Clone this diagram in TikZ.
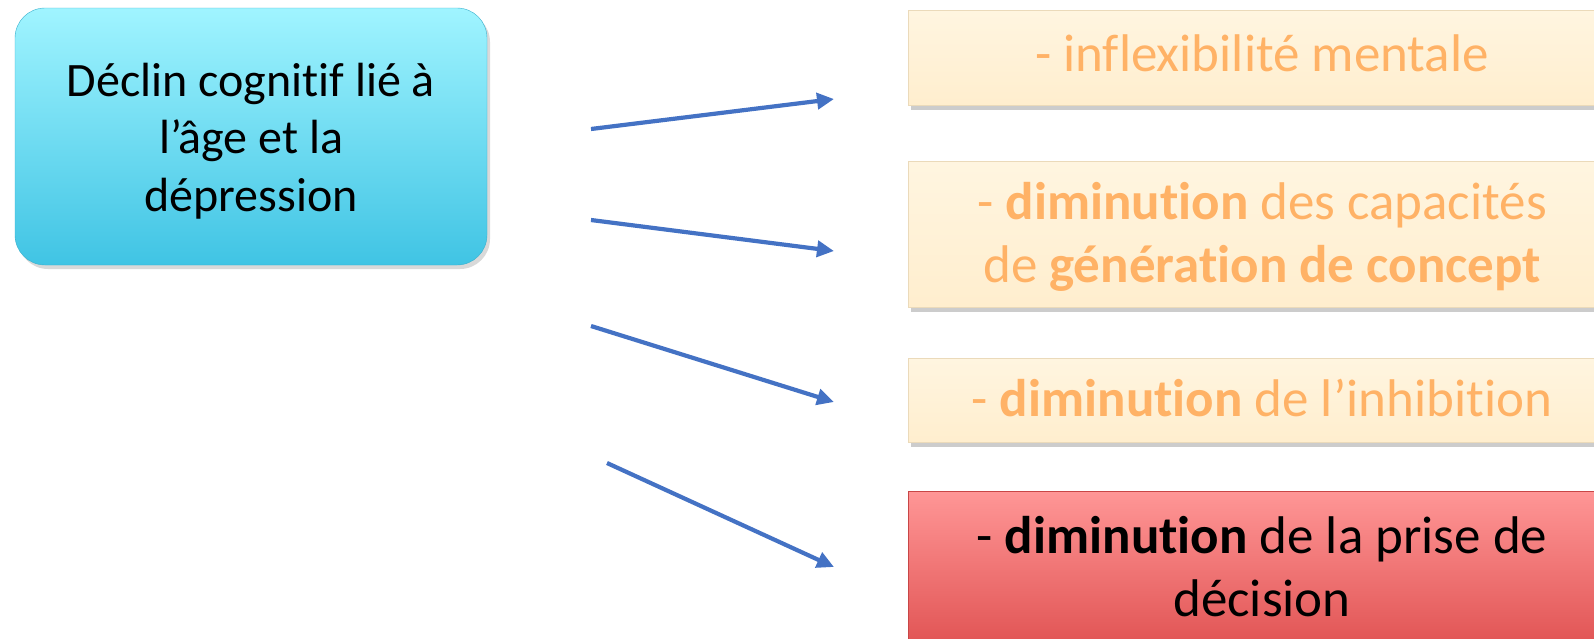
\documentclass[tikz,border=0pt]{standalone}
\usepackage{fontspec}
\setmainfont{Carlito}[Ligatures=NoCommon]
\usepackage{tikz}
\usetikzlibrary{arrows.meta,positioning,shadows}

\definecolor{cyantop}{RGB}{160,244,255}
\definecolor{cyanbot}{RGB}{64,196,228}
\definecolor{creamtop}{RGB}{255,245,224}
\definecolor{creambot}{RGB}{255,238,206}
\definecolor{creamedge}{RGB}{235,218,186}
\definecolor{redtop}{RGB}{255,150,150}
\definecolor{redbot}{RGB}{222,78,78}
\definecolor{orangetxt}{RGB}{255,178,102}
\definecolor{arrowblue}{RGB}{68,114,196}

\begin{document}
\begin{tikzpicture}[
    x=0.5pt, y=-0.5pt,
    cause/.style={rectangle, rounded corners=15pt, top color=cyantop, bottom color=cyanbot,
        draw=cyanbot!90!black, line width=0.2pt, minimum width=236pt, minimum height=128.5pt,
        drop shadow={opacity=0.3, shadow xshift=1.5pt, shadow yshift=-2pt},
        align=center, font=\fontsize{24}{28.75}\selectfont},
    effect/.style={rectangle, top color=creamtop, bottom color=creambot, draw=creamedge,
        line width=0.3pt, minimum width=354pt, anchor=west,
        drop shadow={opacity=0.4, shadow xshift=1.5pt, shadow yshift=-2.5pt}},
    effectred/.style={effect, top color=redtop, bottom color=redbot, draw=redbot!90!black},
    effecttxt/.style={anchor=base, align=center, text=orangetxt, inner sep=0pt,
        font=\fontsize{26.5}{31.5}\selectfont},
    link/.style={-{Triangle[length=8.5pt,width=8pt]}, line width=2.1pt, arrowblue}
]
    \clip (0,0) rectangle (1594,638);
    \useasboundingbox (0,0) rectangle (1594,638);

    % Cause
    \node[cause] (declin) at (251,136.5) {\rule{0pt}{21pt}D\'eclin cognitif li\'e \`a\\l’\^age et la\\d\'epression};

    % Effects
    \node[effect, minimum height=47.5pt] (inflex) at (908,57.5) {};
    \node[effect, minimum height=73pt] (concept) at (908,234) {};
    \node[effect, minimum height=42pt] (inhib) at (908,400) {};
    \node[effectred, minimum height=84.5pt] (decision) at (908,575.5) {};

    \node[effecttxt] (inflextxt) at (1262,71) {- inflexibilit\'e mentale};
    \node[effecttxt] (concepttxt) at (1262,282) {- \textbf{diminution} des capacit\'es\\de \textbf{g\'en\'eration de concept}};
    \node[effecttxt] (inhibtxt) at (1262,416) {- \textbf{diminution} de l’inhibition};
    \node[effecttxt, text=black] (decisiontxt) at (1262,616) {- \textbf{diminution} de la prise de\\d\'ecision};

    % Arrows
    \coordinate (a1) at (591,129);
    \coordinate (b1) at (834,99);
    \coordinate (a2) at (591,220);
    \coordinate (b2) at (834,251);
    \coordinate (a3) at (591,326);
    \coordinate (b3) at (834,402);
    \coordinate (a4) at (607,463);
    \coordinate (b4) at (834,567);

    \draw[link] (a1) -- (b1);
    \draw[link] (a2) -- (b2);
    \draw[link] (a3) -- (b3);
    \draw[link] (a4) -- (b4);
\end{tikzpicture}
\end{document}
